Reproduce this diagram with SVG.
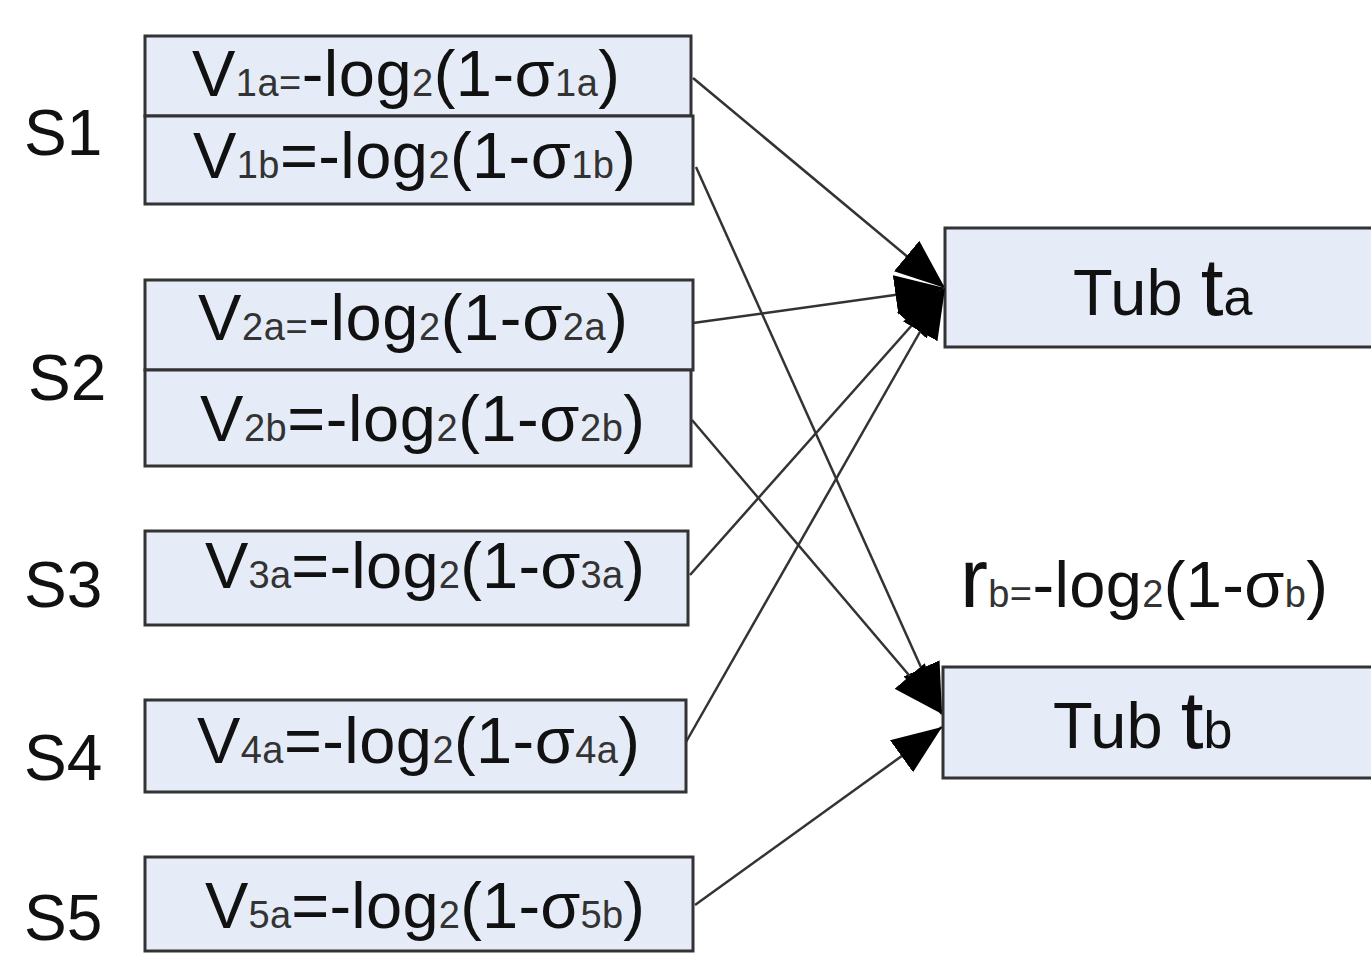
<svg xmlns="http://www.w3.org/2000/svg" width="1371" height="953" viewBox="0 0 1371 953">
<style>
.box{fill:#e6ecf7;stroke:#333;stroke-width:3}
.t{font-family:"Liberation Sans",Arial,sans-serif;fill:#111;font-size:65px}
.s{font-size:38px;fill:#333}
.lab{font-family:"Liberation Sans",Arial,sans-serif;fill:#111;font-size:64px}
.c{stroke:#333;stroke-width:2.5;fill:none;marker-end:url(#ah)}
</style>
<defs>
<marker id="ah" markerUnits="userSpaceOnUse" markerWidth="52" markerHeight="42" refX="48" refY="19" orient="auto" viewBox="0 0 50 38">
<path d="M0,0 L48,19 L0,38 Z" fill="#000"/>
</marker>
</defs>
<rect width="1371" height="953" fill="#fff"/>
<g id="labels">
<text class="lab" x="24" y="155">S1</text>
<text class="lab" x="28" y="400">S2</text>
<text class="lab" x="24" y="607">S3</text>
<text class="lab" x="24" y="780">S4</text>
<text class="lab" x="24" y="940">S5</text>
</g>
<g id="v1a"><rect class="box" x="145" y="36" width="546" height="80"/>
<text class="t" x="192" y="96" textLength="428" lengthAdjust="spacing">V<tspan class="s">1a=</tspan>-log<tspan class="s">2</tspan>(1-σ<tspan class="s">1a</tspan>)</text></g>
<g id="v1b"><rect class="box" x="145" y="116" width="548" height="88"/>
<text class="t" x="193" y="178" textLength="443" lengthAdjust="spacing">V<tspan class="s">1b</tspan>=-log<tspan class="s">2</tspan>(1-σ<tspan class="s">1b</tspan>)</text></g>
<g id="v2a"><rect class="box" x="145" y="280" width="548" height="90"/>
<text class="t" x="198" y="340" textLength="430" lengthAdjust="spacing">V<tspan class="s">2a=</tspan>-log<tspan class="s">2</tspan>(1-σ<tspan class="s">2a</tspan>)</text></g>
<g id="v2b"><rect class="box" x="145" y="370" width="546" height="96"/>
<text class="t" x="200" y="441" textLength="445" lengthAdjust="spacing">V<tspan class="s">2b</tspan>=-log<tspan class="s">2</tspan>(1-σ<tspan class="s">2b</tspan>)</text></g>
<g id="v3a"><rect class="box" x="145" y="531" width="543" height="94"/>
<text class="t" x="205" y="588" textLength="440" lengthAdjust="spacing">V<tspan class="s">3a</tspan>=-log<tspan class="s">2</tspan>(1-σ<tspan class="s">3a</tspan>)</text></g>
<g id="v4a"><rect class="box" x="145" y="700" width="541" height="92"/>
<text class="t" x="197" y="763" textLength="443" lengthAdjust="spacing">V<tspan class="s">4a</tspan>=-log<tspan class="s">2</tspan>(1-σ<tspan class="s">4a</tspan>)</text></g>
<g id="v5a"><rect class="box" x="145" y="857" width="548" height="94"/>
<text class="t" x="205" y="928" textLength="440" lengthAdjust="spacing">V<tspan class="s">5a</tspan>=-log<tspan class="s">2</tspan>(1-σ<tspan class="s">5b</tspan>)</text></g>
<g id="tubA"><rect class="box" x="945" y="228" width="428" height="119"/>
<text class="t" x="1073" y="315" font-size="64">Tub <tspan font-size="82">t</tspan><tspan font-size="52">a</tspan></text></g>
<g id="tubB"><rect class="box" x="943" y="667" width="430" height="111"/>
<text class="t" x="1053" y="748" font-size="64">Tub <tspan font-size="82">t</tspan><tspan font-size="52">b</tspan></text></g>
<g id="rb"><text class="t" x="960" y="607" textLength="368" lengthAdjust="spacing"><tspan font-size="84">r</tspan><tspan class="s">b=</tspan>-log<tspan class="s">2</tspan>(1-σ<tspan class="s">b</tspan>)</text></g>
<g id="connectors">
<line class="c" x1="693" y1="78" x2="945" y2="288"/>
<line class="c" x1="696" y1="167" x2="942" y2="714"/>
<line class="c" x1="693" y1="323" x2="945" y2="288"/>
<line class="c" x1="692" y1="420" x2="942" y2="714"/>
<line class="c" x1="690" y1="575" x2="945" y2="288"/>
<line class="c" x1="686" y1="742" x2="945" y2="288"/>
<line class="c" x1="695" y1="905" x2="942" y2="727"/>
</g>
</svg>
